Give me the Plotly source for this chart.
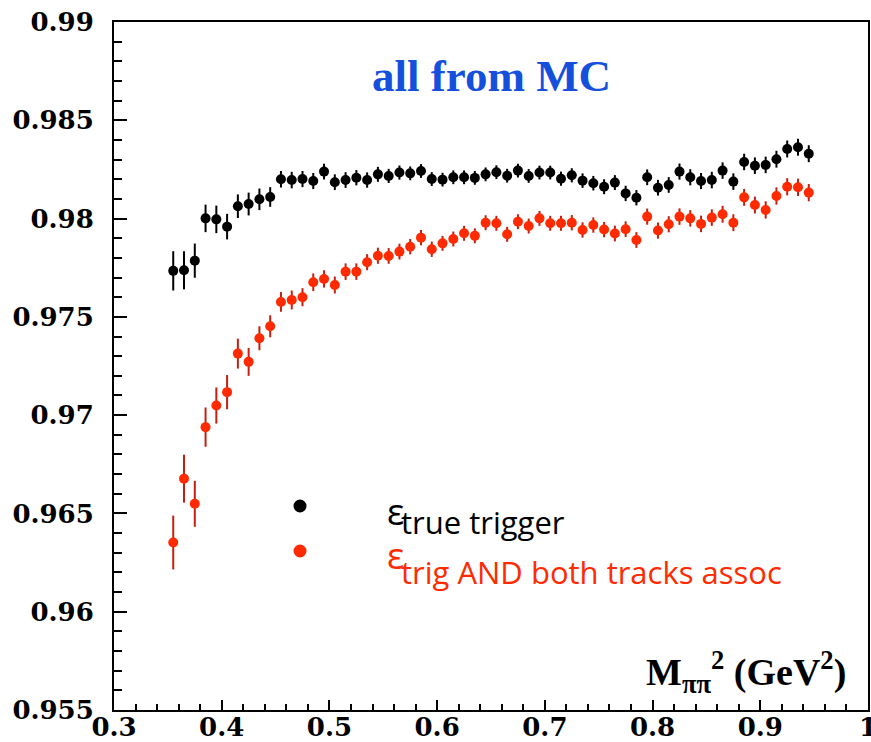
import plotly.graph_objects as go

# M_pipi^2 bin centres (GeV^2)
mass2 = [0.355, 0.365, 0.375, 0.385, 0.395, 0.405, 0.415, 0.425, 0.435, 0.445,
         0.455, 0.465, 0.475, 0.485, 0.495, 0.505, 0.515, 0.525, 0.535, 0.545,
         0.555, 0.565, 0.575, 0.585, 0.595, 0.605, 0.615, 0.625, 0.635, 0.645,
         0.655, 0.665, 0.675, 0.685, 0.695, 0.705, 0.715, 0.725, 0.735, 0.745,
         0.755, 0.765, 0.775, 0.785, 0.795, 0.805, 0.815, 0.825, 0.835, 0.845,
         0.855, 0.865, 0.875, 0.885, 0.895, 0.905, 0.915, 0.925, 0.935, 0.945]

# true trigger efficiency
eff_trig = [0.97734, 0.97737, 0.97786, 0.98001, 0.97996, 0.97959, 0.98063, 0.98074, 0.98098, 0.98110,
            0.98200, 0.98196, 0.98201, 0.98191, 0.98239, 0.98185, 0.98196, 0.98208, 0.98196, 0.98225,
            0.98217, 0.98234, 0.98230, 0.98242, 0.98201, 0.98198, 0.98210, 0.98210, 0.98207, 0.98225,
            0.98236, 0.98218, 0.98244, 0.98217, 0.98234, 0.98234, 0.98203, 0.98220, 0.98193, 0.98180,
            0.98162, 0.98183, 0.98128, 0.98106, 0.98210, 0.98157, 0.98171, 0.98239, 0.98210, 0.98191,
            0.98196, 0.98244, 0.98188, 0.98288, 0.98269, 0.98273, 0.98302, 0.98354, 0.98363, 0.98330]
err_trig = [0.00100, 0.00097, 0.00087, 0.00070, 0.00070, 0.00065, 0.00060, 0.00058, 0.00055, 0.00050,
            0.00042, 0.00042, 0.00041, 0.00041, 0.00040, 0.00040, 0.00040, 0.00039, 0.00039, 0.00038,
            0.00036, 0.00036, 0.00035, 0.00035, 0.00035, 0.00035, 0.00035, 0.00035, 0.00035, 0.00035,
            0.00035, 0.00035, 0.00035, 0.00035, 0.00035, 0.00035, 0.00036, 0.00036, 0.00037, 0.00037,
            0.00038, 0.00038, 0.00039, 0.00039, 0.00040, 0.00040, 0.00040, 0.00041, 0.00041, 0.00041,
            0.00042, 0.00042, 0.00042, 0.00042, 0.00042, 0.00042, 0.00043, 0.00043, 0.00043, 0.00043]

# trigger AND both tracks associated
eff_assoc = [0.96352, 0.96677, 0.96549, 0.96939, 0.97049, 0.97117, 0.97313, 0.97271, 0.97391, 0.97452,
             0.97576, 0.97586, 0.97600, 0.97676, 0.97693, 0.97662, 0.97730, 0.97730, 0.97778, 0.97811,
             0.97810, 0.97832, 0.97857, 0.97903, 0.97844, 0.97874, 0.97896, 0.97925, 0.97912, 0.97979,
             0.97976, 0.97920, 0.97984, 0.97962, 0.98001, 0.97976, 0.97976, 0.97979, 0.97942, 0.97967,
             0.97944, 0.97924, 0.97946, 0.97891, 0.98010, 0.97939, 0.97971, 0.98010, 0.98001, 0.97973,
             0.98005, 0.98022, 0.97979, 0.98108, 0.98069, 0.98044, 0.98115, 0.98162, 0.98159, 0.98132]
err_assoc = [0.00137, 0.00122, 0.00117, 0.00100, 0.00092, 0.00087, 0.00076, 0.00071, 0.00061, 0.00056,
             0.00050, 0.00048, 0.00046, 0.00045, 0.00044, 0.00043, 0.00042, 0.00042, 0.00041, 0.00041,
             0.00040, 0.00040, 0.00039, 0.00039, 0.00039, 0.00038, 0.00038, 0.00038, 0.00038, 0.00038,
             0.00038, 0.00038, 0.00038, 0.00038, 0.00038, 0.00038, 0.00038, 0.00039, 0.00039, 0.00039,
             0.00039, 0.00040, 0.00040, 0.00040, 0.00041, 0.00041, 0.00041, 0.00042, 0.00042, 0.00042,
             0.00042, 0.00043, 0.00043, 0.00043, 0.00043, 0.00044, 0.00044, 0.00044, 0.00044, 0.00044]

x_ticks = [0.3, 0.4, 0.5, 0.6, 0.7, 0.8, 0.9, 1.0]
x_ticktext = ["0.3", "0.4", "0.5", "0.6", "0.7", "0.8", "0.9", "1"]
y_ticks = [0.955, 0.96, 0.965, 0.97, 0.975, 0.98, 0.985, 0.99]
y_ticktext = ["0.955", "0.96", "0.965", "0.97", "0.975", "0.98", "0.985", "0.99"]

RED = "#ff2a00"
RED_BAR = "#c41f10"
BLUE = "#1450dc"

fig = go.Figure()

fig.add_trace(go.Scatter(
    x=mass2, y=eff_assoc, mode="markers",
    marker=dict(color=RED, size=10, line=dict(width=0)),
    error_y=dict(type="data", array=err_assoc, color=RED_BAR, thickness=2, width=0),
    showlegend=False,
))
fig.add_trace(go.Scatter(
    x=mass2, y=eff_trig, mode="markers",
    marker=dict(color="black", size=10, line=dict(width=0)),
    error_y=dict(type="data", array=err_trig, color="black", thickness=2, width=0),
    showlegend=False,
))

tick_font = dict(family="DejaVu Serif", size=26, color="black", weight="bold")

fig.update_xaxes(
    range=[0.3, 1.0], tickvals=x_ticks, ticktext=x_ticktext,
    ticks="inside", ticklen=10, tickwidth=2, tickcolor="black",
    minor=dict(dtick=0.02, tick0=0.3, ticks="inside", ticklen=6, tickwidth=2, tickcolor="black"),
    showline=True, linewidth=2, linecolor="black", mirror=True,
    showgrid=False, zeroline=False, tickfont=tick_font, ticklabelstandoff=-7,
    ticklabeloverflow="allow",
)
fig.update_yaxes(
    range=[0.955, 0.99], tickvals=y_ticks, ticktext=y_ticktext,
    ticks="inside", ticklen=13, tickwidth=2, tickcolor="black",
    minor=dict(dtick=0.001, tick0=0.955, ticks="inside", ticklen=8, tickwidth=2, tickcolor="black"),
    showline=True, linewidth=2, linecolor="black", mirror=True,
    showgrid=False, zeroline=False, tickfont=tick_font, ticklabelstandoff=13,
)

legend_sans = "Open Sans"

annotations = [
    dict(text="<b>all from MC</b>", x=0.5, y=0.9215, xref="paper", yref="paper",
         xanchor="center", yanchor="middle", showarrow=False,
         font=dict(family="Liberation Serif", size=45, color=BLUE)),
    dict(text="<b>M<sub>ππ</sub><sup>2</sup> (GeV<sup>2</sup>)</b>", x=0.9735, y=0.055,
         xref="paper", yref="paper", xanchor="right", yanchor="middle", showarrow=False,
         font=dict(family="Liberation Serif", size=38, color="black")),
    # legend entries: epsilon symbol plus its subscript label
    dict(text="ε", x=0.3595, y=0.289, xref="paper", yref="paper",
         xanchor="left", yanchor="middle", showarrow=False,
         font=dict(family=legend_sans, size=36, color="black")),
    dict(text="true trigger", x=0.3785, y=0.2726, xref="paper", yref="paper",
         xanchor="left", yanchor="middle", showarrow=False,
         font=dict(family=legend_sans, size=31, color="black")),
    dict(text="ε", x=0.3595, y=0.225, xref="paper", yref="paper",
         xanchor="left", yanchor="middle", showarrow=False,
         font=dict(family=legend_sans, size=36, color=RED)),
    dict(text="trig AND both tracks assoc", x=0.3785, y=0.200, xref="paper", yref="paper",
         xanchor="left", yanchor="middle", showarrow=False,
         font=dict(family=legend_sans, size=31, color=RED)),
]

legend_dots = [
    dict(type="circle", xref="paper", yref="paper", xsizemode="pixel", ysizemode="pixel",
         xanchor=0.2467, yanchor=0.2965, x0=-6.5, x1=6.5, y0=-6.5, y1=6.5,
         fillcolor="black", line=dict(width=0)),
    dict(type="circle", xref="paper", yref="paper", xsizemode="pixel", ysizemode="pixel",
         xanchor=0.2467, yanchor=0.2311, x0=-6.5, x1=6.5, y0=-6.5, y1=6.5,
         fillcolor=RED, line=dict(width=0)),
]

fig.update_layout(
    width=871, height=742,
    margin=dict(l=114, r=3, t=22, b=32, autoexpand=False),
    paper_bgcolor="white", plot_bgcolor="white",
    annotations=annotations, shapes=legend_dots,
    showlegend=False,
)

fig.write_html("out.html")
